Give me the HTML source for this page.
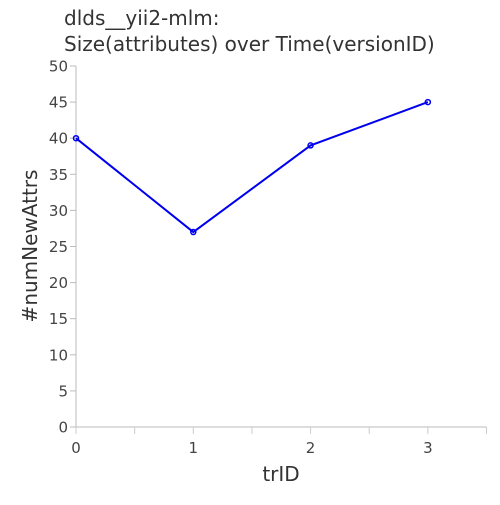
<!DOCTYPE html>
<html><head><meta charset="utf-8"><style>
body{margin:0;background:#fff;}
svg text{font-family:"DejaVu Sans","Liberation Sans",sans-serif;}
</style></head><body>
<svg id="chart" width="500" height="500">
<text x="64" y="25" font-size="20" fill="#333">dlds__yii2-mlm:</text>
<text x="64" y="51" font-size="20" fill="#333">Size(attributes) over Time(versionID)</text>
<g id="axes"></g>
<g id="series"></g>
<text x="281" y="481" font-size="20" fill="#333" text-anchor="middle">trID</text>
<text transform="translate(37,246) rotate(-90)" font-size="20" fill="#333" text-anchor="middle">#numNewAttrs</text>
</svg>
<script>
const categories=[0,1,2,3];
const values=[40,27,39,45];
const yTicks=[0,5,10,15,20,25,30,35,40,45,50];
const xTicks=[0,0.5,1,1.5,2,2.5,3,3.5];
const NS="http://www.w3.org/2000/svg";
const X0=76,X1=486.5,Y0=427,Y1=66;
function sx(v){return X0+(v/3.5)*(X1-X0);}
function sy(v){return Y0-(v/50)*(Y0-Y1);}
function mk(tag,attrs,parent){const e=document.createElementNS(NS,tag);for(const k in attrs)e.setAttribute(k,attrs[k]);parent.appendChild(e);return e;}
const ax=document.getElementById('axes');
let yl=mk('line',{x1:X0,y1:Y1,x2:X0,y2:Y0,stroke:'#bbb','stroke-width':1},ax);


let xl=mk('line',{x1:X0,y1:Y0,x2:X1,y2:Y0,stroke:'#bbb','stroke-width':1},ax);


yTicks.forEach(t=>{
 const y=sy(t);
 const tk=mk('line',{x1:X0-6,y1:y,x2:X0,y2:y,stroke:'#bbb'},ax);
 
 
 const tx=mk('text',{x:X0-8,y:y+5.5,'font-size':15,fill:'#444','text-anchor':'end'},ax);
 tx.textContent=t;
 
 
});
xTicks.forEach(t=>{
 const x=sx(t);
 const tk=mk('line',{x1:x,y1:Y0,x2:x,y2:Y0+7,stroke:'#ccc'},ax);
 
 
 if(Number.isInteger(t)){
  const tx=mk('text',{x:x,y:Y0+26,'font-size':15,fill:'#444','text-anchor':'middle'},ax);
  tx.textContent=t;
  
  
 }
});
const sg=document.getElementById('series');
const pts=categories.map((c,i)=>sx(c)+','+sy(values[i])).join(' ');
const pl=mk('polyline',{points:pts,fill:'none',stroke:'#0000ee','stroke-width':2},sg);


categories.forEach((c,i)=>{
 const p=mk('circle',{cx:sx(c),cy:sy(values[i]),r:2.5,fill:'none',stroke:'#0000ee','stroke-width':1.5},sg);
 
 
});
</script>
</body></html>
